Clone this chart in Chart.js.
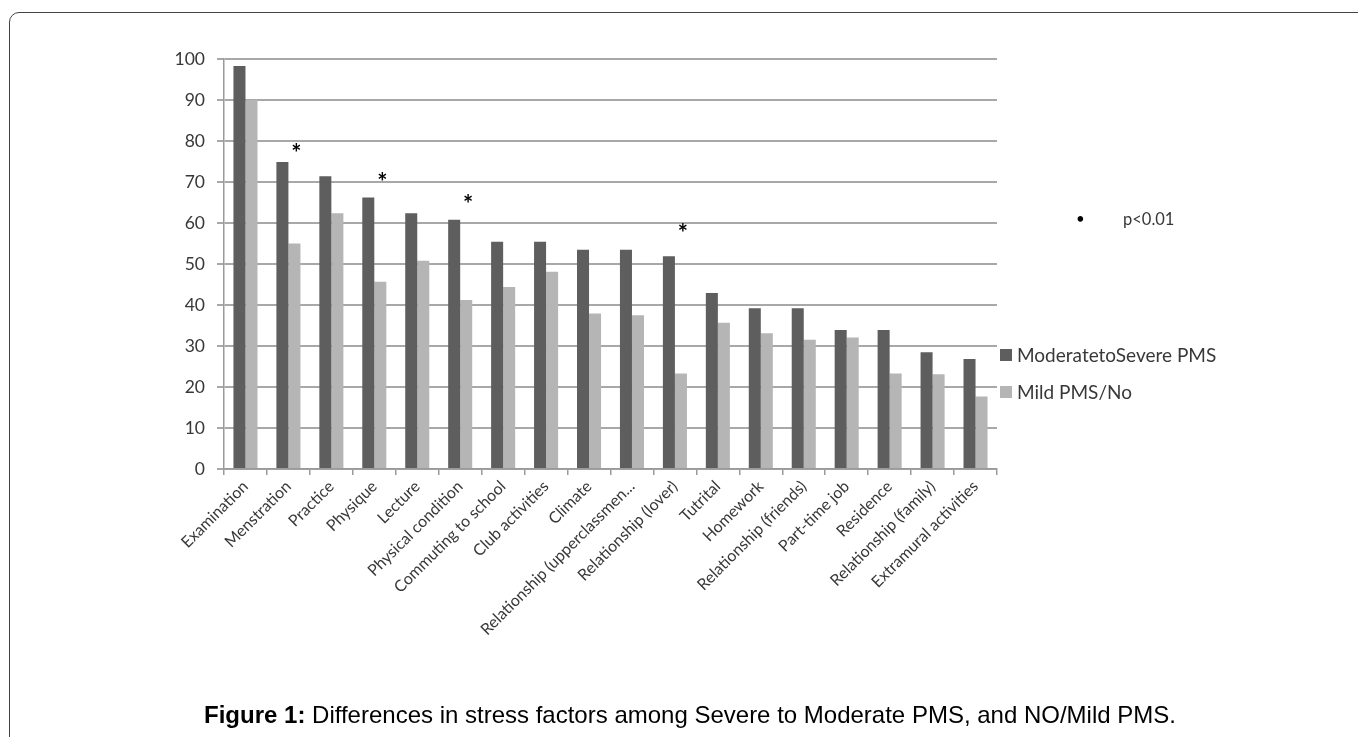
<!DOCTYPE html>
<html>
<head>
<meta charset="utf-8">
<script src="https://cdn.jsdelivr.net/npm/chart.js@4"></script>
<style>
    html, body { margin: 0; padding: 0; background: #fff; overflow: hidden; }
    #frame {
        position: absolute; left: 9px; top: 12px; width: 1400px; height: 800px;
        border: 1px solid #444; border-top-left-radius: 10px;
    }
    #chart { position: absolute; left: 0; top: 0; }
    #caption {
        position: absolute; left: 0; width: 1380px; top: 701px;
        text-align: center; font-family: "Liberation Sans", Arial, sans-serif;
        font-size: 24px; color: #000;
    }
</style>
</head>
<body>
<div id="frame"></div>
<canvas id="chart" width="1358" height="737"></canvas>
<div id="caption"><b>Figure 1:</b> Differences in stress factors among Severe to Moderate PMS, and NO/Mild PMS.</div>
<script>
const categories = [
    'Examination', 'Menstration', 'Practice', 'Physique', 'Lecture',
    'Physical condition', 'Commuting to school', 'Club activities', 'Climate',
    'Relationship (upperclassmen...', 'Relationship (lover)', 'Tutrital', 'Homework',
    'Relationship (friends)', 'Part-time job', 'Residence', 'Relationship (family)',
    'Extramural activities'
];
const moderateSevere = [98.3, 74.9, 71.4, 66.2, 62.4, 60.8, 55.4, 55.4, 53.5, 53.5, 51.9, 42.9, 39.2, 39.2, 33.9, 33.9, 28.5, 26.8];
const mildNo = [90.0, 55.0, 62.4, 45.7, 50.8, 41.2, 44.4, 48.1, 37.9, 37.5, 23.3, 35.7, 33.1, 31.5, 32.1, 23.3, 23.1, 17.7];
const seriesNames = ['ModeratetoSevere PMS', 'Mild PMS/No'];
const seriesColors = ['#5e5e5e', '#b5b5b5'];

// significance markers: which categories, and how high the * sits
const sigCategories = ['Menstration', 'Physique', 'Physical condition', 'Relationship (lover)'];
const sigMarkY = [78, 71, 65.5, 58.5];
const noteBullet = '•';
const noteText = 'p<0.01';

const yTicks = { min: 0, max: 100, step: 10 };

const labelFont = 'Lato, "Open Sans", sans-serif';

const extrasPlugin = {
    id: 'extras',
    afterDraw(chart) {
        const ctx = chart.ctx;
        const yScale = chart.scales.y;
        const meta = chart.getDatasetMeta(1);
        ctx.save();

        // asterisks over the pairs that differ
        ctx.fillStyle = '#000';
        ctx.font = 'bold 24px ' + labelFont;
        ctx.textAlign = 'center';
        ctx.textBaseline = 'middle';
        sigCategories.forEach((name, i) => {
            const idx = categories.indexOf(name);
            const bar = meta.data[idx];
            ctx.fillText('*', bar.x + 2, yScale.getPixelForValue(sigMarkY[i]) + 5);
        });

        // note at the right
        ctx.textAlign = 'left';
        ctx.font = '15px ' + labelFont;
        ctx.fillStyle = '#000';
        ctx.fillText(noteBullet, 1076, 219);
        ctx.font = '16.5px ' + labelFont;
        ctx.fillStyle = '#383838';
        ctx.fillText(noteText, 1123, 220);

        // legend
        ctx.font = '19px ' + labelFont;
        chart.data.datasets.forEach((ds, i) => {
            const cy = 355 + i * 37;
            ctx.fillStyle = ds.backgroundColor;
            ctx.fillRect(1000, cy - 6, 12, 12);
            ctx.fillStyle = '#383838';
            ctx.fillText(ds.label, 1017, cy + 1);
        });
        ctx.restore();
    }
};

new Chart(document.getElementById('chart').getContext('2d'), {
    type: 'bar',
    data: {
        labels: categories,
        datasets: [
            { label: seriesNames[0], data: moderateSevere, backgroundColor: seriesColors[0] },
            { label: seriesNames[1], data: mildNo, backgroundColor: seriesColors[1] }
        ]
    },
    options: {
        responsive: false,
        animation: false,
        layout: { padding: { left: 154, top: 59, right: 361, bottom: 88 } },
        datasets: {
            bar: { barPercentage: 1, categoryPercentage: 0.56 }
        },
        plugins: {
            legend: { display: false },
            tooltip: { enabled: false }
        },
        scales: {
            x: {
                afterFit: (s) => { s.height = 180; },
                grid: {
                    offset: true, drawOnChartArea: false, drawTicks: true,
                    tickLength: 6, color: '#9a9a9a', lineWidth: 1.5
                },
                border: { color: '#9a9a9a', width: 1.5 },
                ticks: {
                    autoSkip: false, minRotation: 45, maxRotation: 45,
                    font: { family: labelFont, size: 16 }, color: '#383838', padding: 2
                }
            },
            y: {
                min: yTicks.min, max: yTicks.max,
                afterFit: (s) => { s.width = 70; },
                grid: { color: '#a8a8a8', lineWidth: 2, tickLength: 7 },
                border: { color: '#9a9a9a', width: 1.5 },
                ticks: {
                    stepSize: yTicks.step,
                    font: { family: labelFont, size: 17.5 }, color: '#383838', padding: 12
                }
            }
        }
    },
    plugins: [extrasPlugin]
});
</script>
</body>
</html>
